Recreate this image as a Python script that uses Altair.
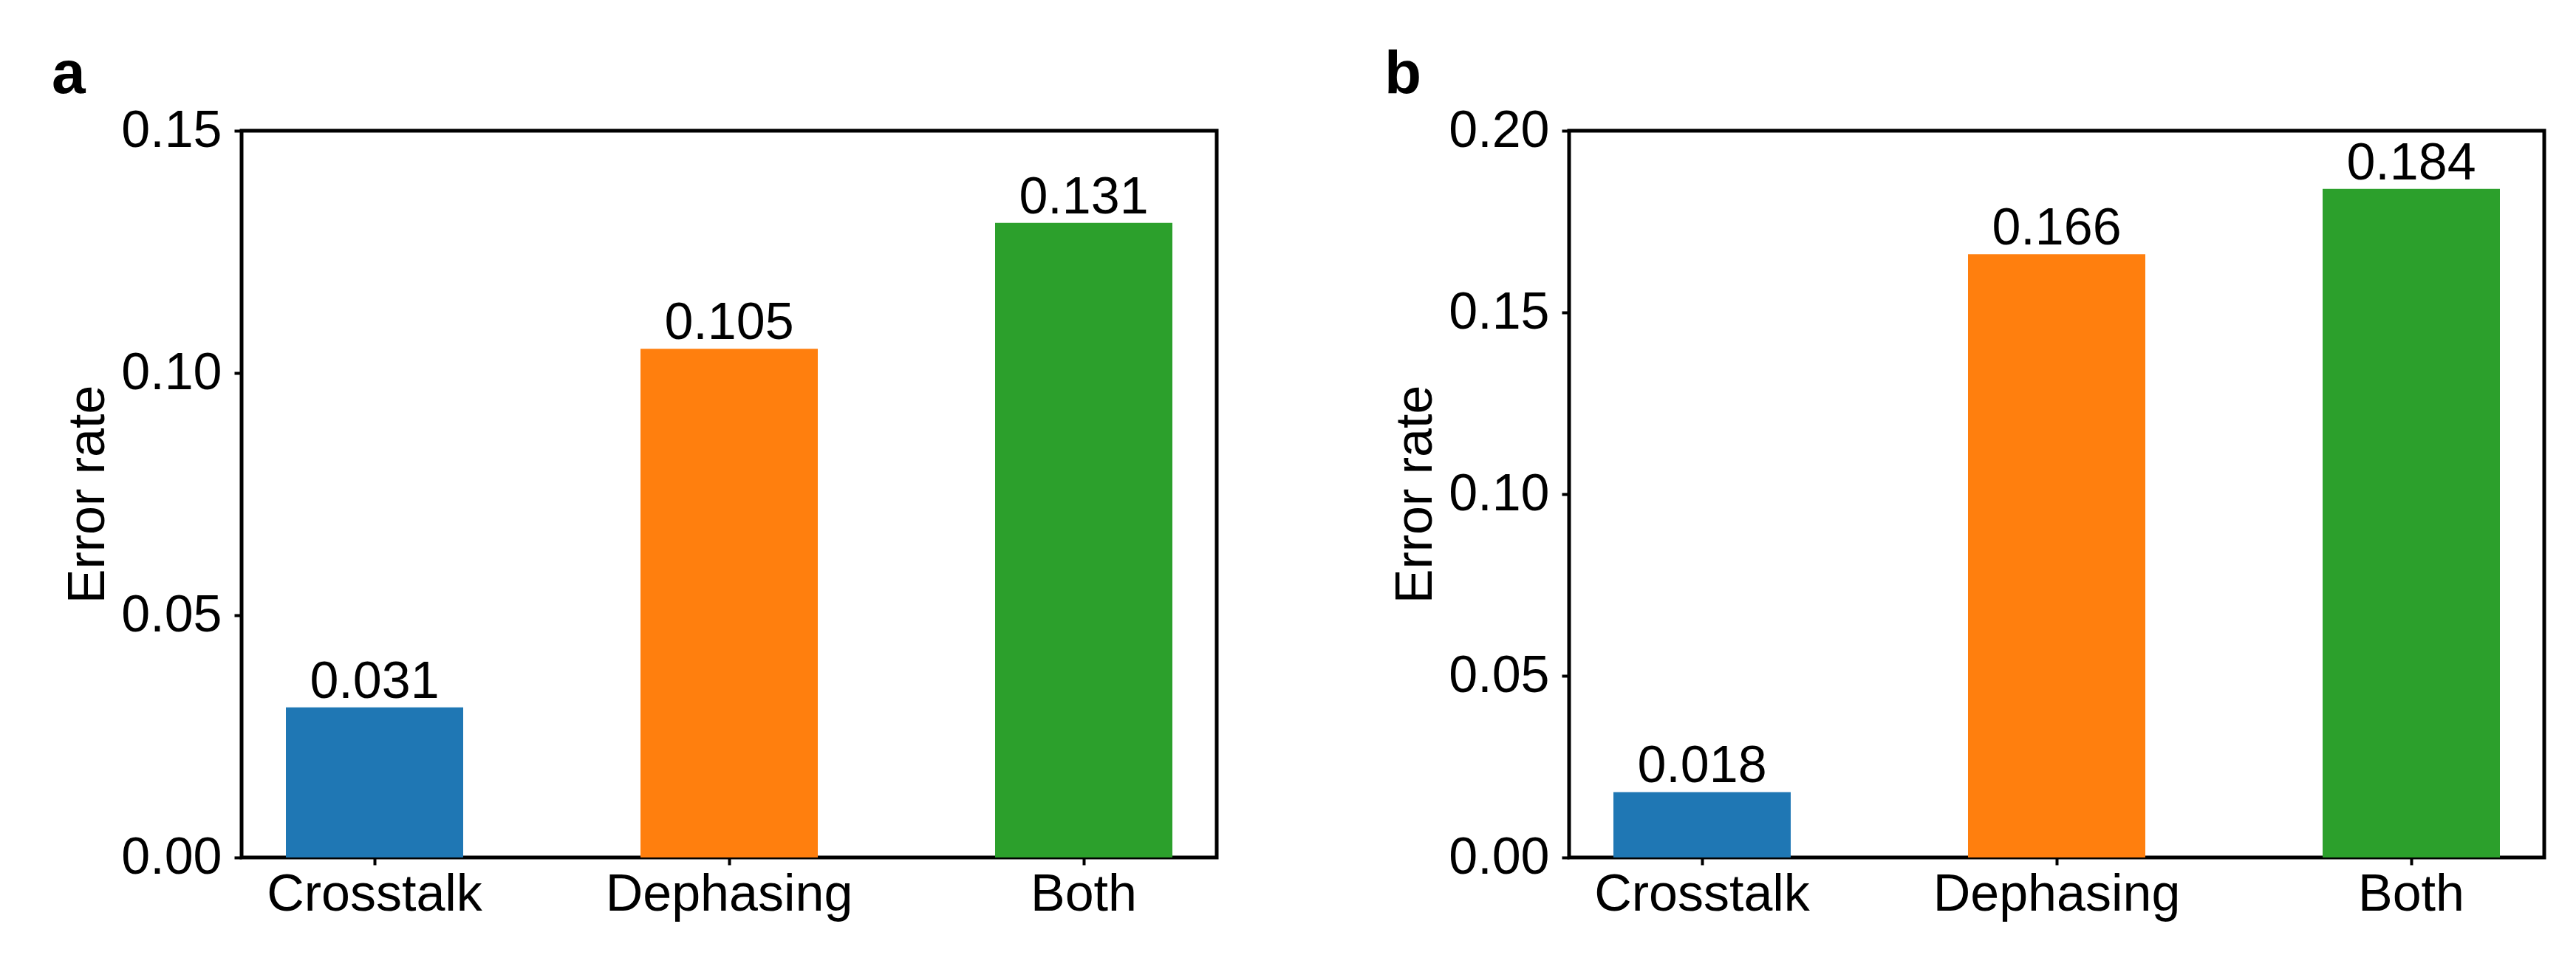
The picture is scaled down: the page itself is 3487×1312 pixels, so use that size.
import altair as alt
import pandas as pd

categories = ["Crosstalk", "Dephasing", "Both"]
values_a = [0.031, 0.105, 0.131]
values_b = [0.018, 0.166, 0.184]
colors = ["#1f77b4", "#ff7f0e", "#2ca02c"]
ticks_a = [0.0, 0.05, 0.10, 0.15]
ticks_b = [0.0, 0.05, 0.10, 0.15, 0.20]

FONT = "Liberation Sans"


def panel(values, ymax, ticks, letter, dx):
    df = pd.DataFrame({"cat": categories, "val": values})
    base = alt.Chart(df).encode(
        x=alt.X(
            "cat:N",
            sort=categories,
            scale=alt.Scale(paddingInner=0.5, paddingOuter=0.125),
            axis=alt.Axis(title=None, labelAngle=0, labelPadding=6, labelLimit=0),
        ),
        y=alt.Y(
            "val:Q",
            scale=alt.Scale(domain=[0, ymax], nice=False, zero=True),
            axis=alt.Axis(
                values=ticks,
                format=".2f",
                title="Error rate",
                labelPadding=17,
                titlePadding=8,
            ),
        ),
    )
    bars = base.mark_bar(strokeWidth=0).encode(
        color=alt.Color(
            "cat:N", scale=alt.Scale(domain=categories, range=colors), legend=None
        )
    )
    text = base.mark_text(
        baseline="alphabetic", dy=-13, fontSize=70, font=FONT, color="black"
    ).encode(text=alt.Text("val:Q", format=".3f"))
    return (bars + text).properties(
        width=1320,
        height=984,
        title=alt.TitleParams(
            letter,
            anchor="start",
            frame="group",
            dx=dx,
            fontSize=82,
            fontWeight="bold",
            font=FONT,
            color="black",
            baseline="alphabetic",
            offset=-66,
        ),
    )


pa = panel(values_a, 0.15, ticks_a, "a", -257)
pb = panel(values_b, 0.20, ticks_b, "b", -250)

chart = (
    alt.hconcat(pa, pb, spacing=477, bounds="flush")
    .properties(padding={"left": 59, "top": 49, "right": 5, "bottom": 5})
    .configure(background="white")
    .configure_view(stroke="black", strokeWidth=5)
    .configure_axis(
        domain=False,
        grid=False,
        ticks=True,
        tickColor="black",
        tickWidth=4,
        tickSize=10,
        labelFont=FONT,
        labelFontSize=70,
        labelColor="black",
        titleFont=FONT,
        titleFontSize=70,
        titleFontWeight="normal",
        titleColor="black",
    )
)

chart.save("out.html", embed_options={"renderer": "svg", "actions": False})
